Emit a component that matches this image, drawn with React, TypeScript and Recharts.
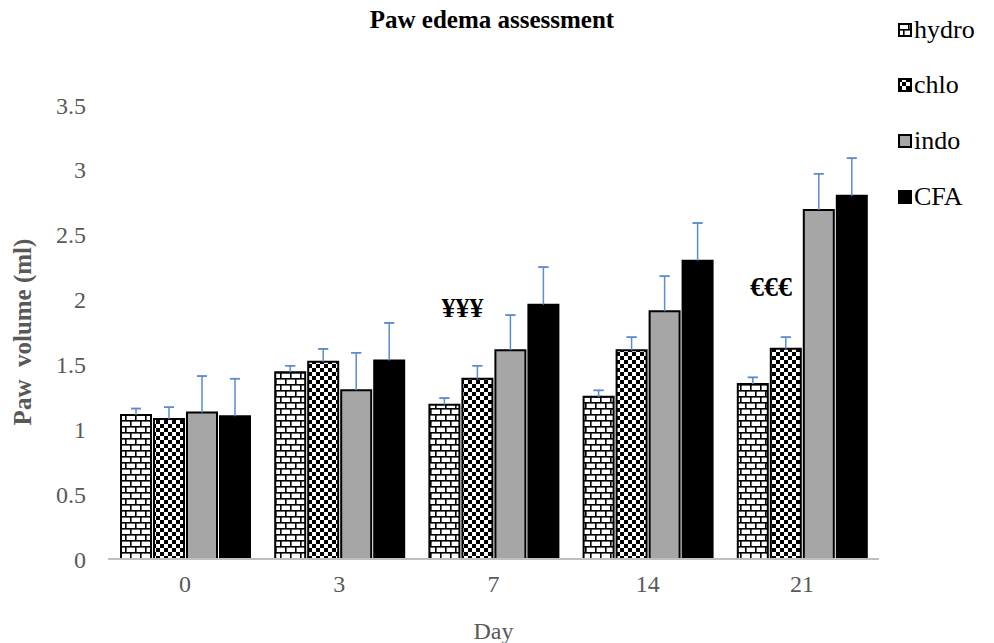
import React from 'react';
import { BarChart, Bar, XAxis, YAxis, ErrorBar, Label, ReferenceDot } from 'recharts';

const days = ['0', '3', '7', '14', '21'];
const hydro = [1.11, 1.44, 1.19, 1.25, 1.35];
const hydroErr = [0.05, 0.05, 0.05, 0.05, 0.05];
const chlo = [1.08, 1.52, 1.39, 1.61, 1.62];
const chloErr = [0.09, 0.1, 0.1, 0.1, 0.09];
const indo = [1.13, 1.3, 1.61, 1.91, 2.69];
const indoErr = [0.28, 0.29, 0.27, 0.27, 0.28];
const cfa = [1.1, 1.53, 1.96, 2.3, 2.8];
const cfaErr = [0.29, 0.29, 0.29, 0.29, 0.29];
const yTicks = [0, 0.5, 1, 1.5, 2, 2.5, 3, 3.5];
const seriesNames = ['hydro', 'chlo', 'indo', 'CFA'];
const annotDays = ['7', '21'];
const annotValues = [1.94, 2.1];
const annotTexts = ['¥¥¥', '€€€'];

const FONT = "'Liberation Serif', 'Times New Roman', serif";
const GRAY = '#595959';
const ERR = '#5B8BD0';

const errs: Record<string, number[]> = { hydro: hydroErr, chlo: chloErr, indo: indoErr, CFA: cfaErr };
const vals: Record<string, number[]> = { hydro, chlo, indo, CFA: cfa };

const data = days.map((d, i) => {
  const row: any = { day: d };
  seriesNames.forEach((s) => {
    row[s] = vals[s][i];
    // vertical whisker from bar top to value + error
    row[`${s}Line`] = [0, errs[s][i]];
    // cap only at value + error
    row[`${s}Cap`] = [-errs[s][i], errs[s][i]];
  });
  return row;
});

const fills: Record<string, string> = {
  hydro: 'url(#brickPat)',
  chlo: 'url(#checkPat)',
  indo: '#A6A6A6',
  CFA: '#000000',
};

const legendTops = [30, 85, 141, 197];

export default function App() {
  return (
    <div style={{ position: 'absolute', left: 0, top: 0, width: 994, height: 643, background: '#fff' }}>
      <svg width={0} height={0} style={{ position: 'absolute' }}>
        <defs>
          <pattern id="brickPat" width={10} height={12} patternUnits="userSpaceOnUse">
            <rect x={0} y={0} width={10} height={12} fill="#fff" />
            <rect x={0} y={0} width={10} height={1.6} fill="#000" />
            <rect x={0} y={6} width={10} height={1.6} fill="#000" />
            <rect x={0} y={0} width={1.6} height={6} fill="#000" />
            <rect x={5} y={6} width={1.6} height={6} fill="#000" />
          </pattern>
          <pattern id="checkPat" width={8} height={8} patternUnits="userSpaceOnUse">
            <rect x={0} y={0} width={8} height={8} fill="#fff" />
            <rect x={0} y={0} width={4} height={4} fill="#000" />
            <rect x={4} y={4} width={4} height={4} fill="#000" />
          </pattern>
        </defs>
      </svg>

      <div
        style={{
          position: 'absolute',
          left: 0,
          width: 994,
          top: 5,
          textAlign: 'center',
          fontFamily: FONT,
          fontWeight: 'bold',
          fontSize: 25,
          lineHeight: '30px',
          color: '#000',
          paddingRight: 10,
          boxSizing: 'border-box',
        }}
      >
        Paw edema assessment
      </div>

      {seriesNames.map((name, i) => (
        <div
          key={name}
          style={{
            position: 'absolute',
            left: 898,
            top: legendTops[i] - 15,
            height: 30,
            display: 'flex',
            alignItems: 'center',
          }}
        >
          <svg width={14} height={14} style={{ marginRight: 2 }}>
            <rect x={1} y={1} width={12} height={12} fill={fills[name]} stroke="#000" strokeWidth={2} />
          </svg>
          <span style={{ fontFamily: FONT, fontSize: 26, color: '#000', lineHeight: '30px' }}>{name}</span>
        </div>
      ))}

      <div style={{ position: 'absolute', left: 0, top: 0 }}>
        <BarChart
          width={994}
          height={643}
          data={data}
          margin={{ top: 105, right: 115, bottom: 0, left: 0 }}
          barSize={30}
          barGap={3}
        >
          <XAxis
            dataKey="day"
            height={84}
            axisLine={{ stroke: '#BFBFBF', strokeWidth: 2 }}
            tickLine={false}
            tickSize={0}
            tickMargin={16}
            tick={{ fill: GRAY, fontSize: 24, fontFamily: FONT }}
          >
            <Label value="Day" position="insideBottom" offset={4} fill={GRAY} fontSize={24} fontFamily={FONT} />
          </XAxis>
          <YAxis
            width={108}
            domain={[0, 3.5]}
            ticks={yTicks}
            axisLine={false}
            tickLine={false}
            tickSize={0}
            tickMargin={22}
            tick={{ fill: GRAY, fontSize: 24, fontFamily: FONT }}
            label={
              <Label
                content={(props: any) => {
                  const vb = props.viewBox || { x: 0, y: 105, width: 108, height: 454 };
                  const cx = vb.x + 22;
                  const cy = vb.y + vb.height / 2;
                  return (
                    <text
                      x={cx}
                      y={cy}
                      transform={`rotate(-90, ${cx}, ${cy})`}
                      textAnchor="middle"
                      dominantBaseline="central"
                      fill={GRAY}
                      fontFamily={FONT}
                      fontWeight="bold"
                      fontSize={25}
                      style={{ whiteSpace: 'pre' }}
                    >
                      {'Paw  volume (ml)'}
                    </text>
                  );
                }}
              />
            }
          />
          {seriesNames.map((name) => (
            <Bar
              key={name}
              dataKey={name}
              fill={fills[name]}
              stroke="#000"
              strokeWidth={2}
              isAnimationActive={false}
            >
              <ErrorBar dataKey={`${name}Line`} direction="y" width={0} stroke={ERR} strokeWidth={1.5} isAnimationActive={false} />
              <ErrorBar dataKey={`${name}Cap`} direction="y" width={5} stroke={ERR} strokeWidth={1.5} isAnimationActive={false} />
            </Bar>
          ))}
          {annotDays.map((d, i) => (
            <ReferenceDot
              key={d}
              x={d}
              y={annotValues[i]}
              r={0}
              ifOverflow="visible"
              shape={(p: any) => (
                <text
                  x={p.cx - 31}
                  y={p.cy}
                  textAnchor="middle"
                  dominantBaseline="central"
                  fontFamily={FONT}
                  fontWeight="bold"
                  fontSize={28}
                  fill="#000"
                >
                  {annotTexts[i]}
                </text>
              )}
            />
          ))}
        </BarChart>
      </div>
    </div>
  );
}
